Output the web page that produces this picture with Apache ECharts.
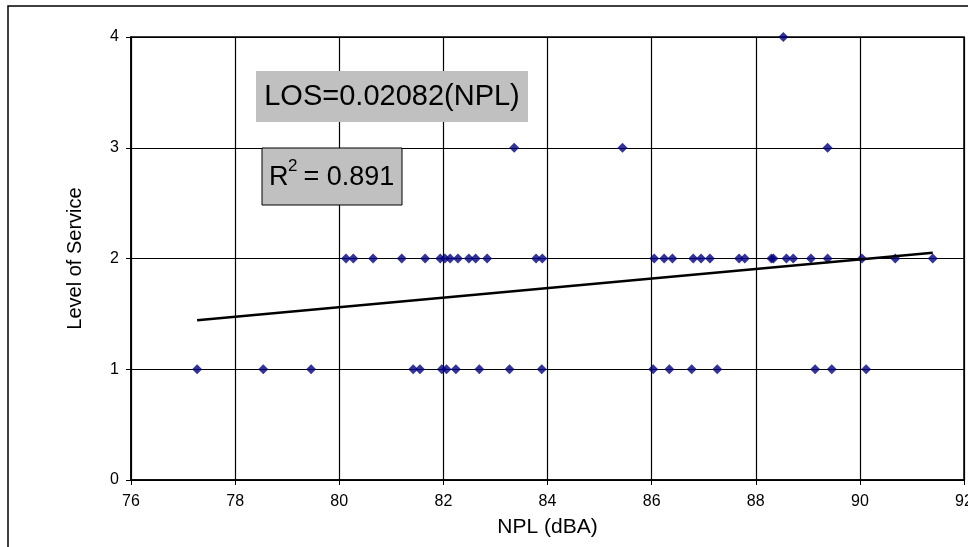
<!DOCTYPE html>
<html>
<head>
<meta charset="utf-8">
<script src="https://cdn.jsdelivr.net/npm/echarts@6/dist/echarts.min.js"></script>
<style>
html,body{margin:0;padding:0;background:#fff;}
#chart{width:968px;height:547px;}
</style>
</head>
<body>
<div id="chart"></div>
<script>
// NPL values (dBA) observed at each Level of Service
var npl_los1 = [77.27, 78.54, 79.46, 81.42, 81.55, 81.97, 82.06, 82.24, 82.69, 83.27, 83.89, 86.03, 86.34, 86.77, 87.26, 89.14, 89.46, 90.12];
var npl_los2 = [80.13, 80.27, 80.65, 81.20, 81.65, 81.94, 82.03, 82.13, 82.28, 82.49, 82.62, 82.84, 83.78, 83.90, 86.05, 86.24, 86.40, 86.80, 86.95, 87.12, 87.68, 87.79, 88.30, 88.34, 88.59, 88.72, 89.06, 89.38, 90.04, 90.68, 91.40];
var npl_los3 = [83.36, 85.44, 89.38];
var npl_los4 = [88.53];
// trendline end points [NPL, LOS]
var trendX = [77.27, 91.40];
var trendY = [1.442, 2.053];
var xTicks = [76, 92, 2];
var yTicks = [0, 4, 1];
var eqText = 'LOS=0.02082(NPL)';
var r2Text = ' = 0.891';

var points = [];
[[1, npl_los1], [2, npl_los2], [3, npl_los3], [4, npl_los4]].forEach(function (g) {
  g[1].forEach(function (x) { points.push([x, g[0]]); });
});
var trend = trendX.map(function (x, i) { return [x, trendY[i]]; });

var FONT = 'Liberation Sans, Arial, sans-serif';
var chart = echarts.init(document.getElementById('chart'), null, {renderer: 'canvas'});
chart.setOption({
  animation: false,
  backgroundColor: '#fff',
  grid: {left: 131, top: 37, right: 4, bottom: 67, show: true, borderColor: '#000', borderWidth: 1.5,
         containLabel: false, outerBoundsMode: 'none'},
  xAxis: {
    type: 'value', min: xTicks[0], max: xTicks[1], interval: xTicks[2],
    name: 'NPL (dBA)', nameLocation: 'middle', nameGap: 37,
    nameTextStyle: {fontFamily: FONT, fontSize: 21, color: '#000'},
    axisLine: {show: true, onZero: false, lineStyle: {color: '#000', width: 1.5}},
    axisTick: {show: true, length: 5, inside: false, lineStyle: {color: '#000'}},
    axisLabel: {fontFamily: FONT, fontSize: 16, color: '#000', margin: 14, showMaxLabel: true, hideOverlap: false},
    splitLine: {show: true, lineStyle: {color: '#000', width: 1.2}}
  },
  yAxis: {
    type: 'value', min: yTicks[0], max: yTicks[1], interval: yTicks[2],
    name: 'Level of Service', nameLocation: 'middle', nameGap: 46,
    nameTextStyle: {fontFamily: FONT, fontSize: 20, color: '#000'},
    axisLine: {show: true, lineStyle: {color: '#000', width: 1.5}},
    axisTick: {show: true, length: 5, lineStyle: {color: '#000'}},
    axisLabel: {fontFamily: FONT, fontSize: 16, color: '#000', margin: 12},
    splitLine: {show: true, lineStyle: {color: '#000', width: 1.2}}
  },
  series: [
    {
      type: 'scatter', data: points, symbol: 'diamond', symbolSize: 10,
      itemStyle: {color: '#000080'}, z: 3
    },
    {
      type: 'line', data: trend, showSymbol: false, symbol: 'none',
      lineStyle: {color: '#000', width: 2.5}, z: 4
    }
  ],
  graphic: [
    {type: 'rect', shape: {x: 8, y: 6, width: 1000, height: 600}, style: {fill: null, stroke: '#000', lineWidth: 1.5}, z: 0, silent: true},
    {type: 'rect', shape: {x: 256, y: 71, width: 272, height: 51}, style: {fill: '#c0c0c0'}, z: 10},
    {type: 'text', x: 392, y: 97, style: {text: eqText, font: '29px ' + FONT, fill: '#000', textAlign: 'center', textVerticalAlign: 'middle'}, z: 11},
    {type: 'rect', shape: {x: 262, y: 148, width: 140, height: 57}, style: {fill: '#c0c0c0', stroke: '#000', lineWidth: 1}, z: 10},
    {type: 'text', x: 269, y: 178, style: {text: 'R', font: '27px ' + FONT, fill: '#000', textAlign: 'left', textVerticalAlign: 'middle'}, z: 11},
    {type: 'text', x: 288, y: 166, style: {text: '2', font: '17px ' + FONT, fill: '#000', textAlign: 'left', textVerticalAlign: 'middle'}, z: 11},
    {type: 'text', x: 296, y: 178, style: {text: r2Text, font: '27px ' + FONT, fill: '#000', textAlign: 'left', textVerticalAlign: 'middle'}, z: 11}
  ]
});
</script>
</body>
</html>
